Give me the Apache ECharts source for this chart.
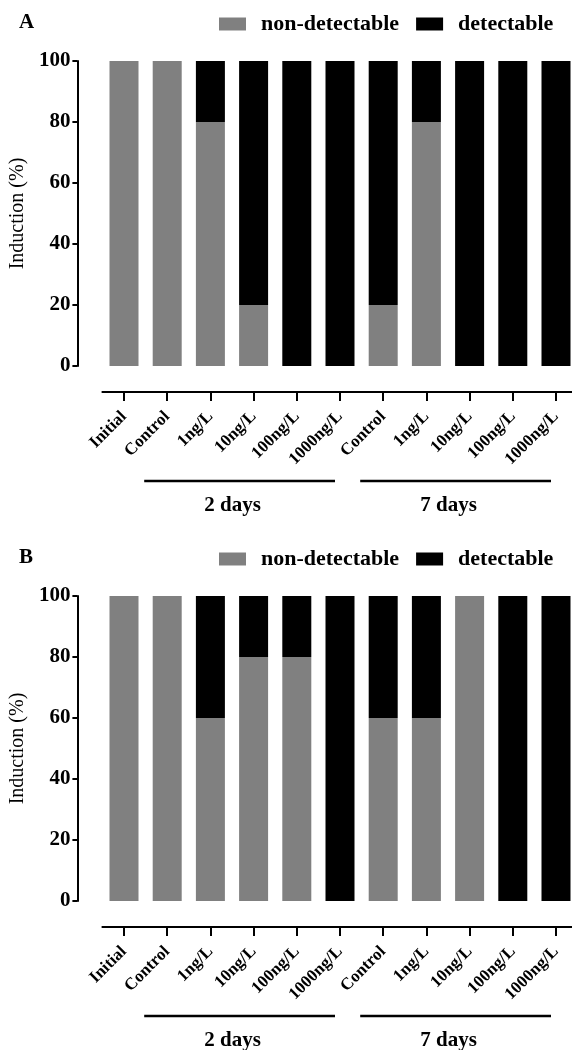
<!DOCTYPE html>
<html>
<head>
<meta charset="utf-8">
<script src="https://cdn.jsdelivr.net/npm/echarts@6/dist/echarts.min.js"></script>
<style>
  html, body { margin: 0; padding: 0; background: #fff; }
  #chart { width: 572px; height: 1050px; }
</style>
</head>
<body>
<div id="chart"></div>
<script>
// categories along the x axis
const categories = ["Initial", "Control", "1ng/L", "10ng/L", "100ng/L", "1000ng/L",
  "Control", "1ng/L", "10ng/L", "100ng/L", "1000ng/L"];
const yTicks = [0, 20, 40, 60, 80, 100];

// panel A (%)
const nonDetA = [100, 100, 80, 20, 0, 0, 20, 80, 0, 0, 0];
const detA = [0, 0, 20, 80, 100, 100, 80, 20, 100, 100, 100];
// panel B (%)
const nonDetB = [100, 100, 60, 80, 80, 0, 60, 60, 100, 0, 0];
const detB = [0, 0, 40, 20, 20, 100, 40, 40, 0, 100, 100];

// groups under the axis: [first index, last index, label]
const groups = [[1, 5, "2 days"], [6, 10, "7 days"]];

const FONT = "Liberation Serif";
const GRAY = "#808080";
const PANEL_OFFSET = 535;

function makeXAxis(gridIndex) {
  return {
    type: "category",
    gridIndex: gridIndex,
    data: categories,
    offset: 26,
    axisLine: { show: true, onZero: false, lineStyle: { color: "#000", width: 2 } },
    axisTick: { show: true, alignWithLabel: true, length: 9, lineStyle: { color: "#000", width: 2 } },
    axisLabel: {
      rotate: 45, interval: 0, margin: 22,
      fontFamily: FONT, fontWeight: "bold", fontSize: 17, color: "#000"
    }
  };
}

function makeYAxis(gridIndex) {
  return {
    type: "value",
    gridIndex: gridIndex,
    min: yTicks[0],
    max: yTicks[yTicks.length - 1],
    interval: 20,
    offset: 25,
    name: "Induction (%)",
    nameLocation: "middle",
    nameGap: 41,
    nameTextStyle: { fontFamily: FONT, fontSize: 20, color: "#000" },
    splitLine: { show: false },
    axisLine: { show: true, lineStyle: { color: "#000", width: 2 } },
    axisTick: { show: true, length: 5, lineStyle: { color: "#000", width: 2 } },
    axisLabel: { fontFamily: FONT, fontWeight: "bold", fontSize: 21, color: "#000", margin: 7 }
  };
}

function makeLegend(top) {
  return {
    top: top,
    left: 214,
    icon: "rect",
    itemWidth: 27,
    itemHeight: 13,
    itemGap: 17,
    data: [
      { name: "non-detectable", itemStyle: { color: GRAY } },
      { name: "detectable", itemStyle: { color: "#000" } }
    ],
    textStyle: { fontFamily: FONT, fontWeight: "bold", fontSize: 22, color: "#000", padding: [0, 0, 0, 10] }
  };
}

function bar(name, data, idx, stack, color) {
  return {
    name: name, type: "bar", stack: stack, data: data,
    xAxisIndex: idx, yAxisIndex: idx, barWidth: 29,
    itemStyle: { color: color }
  };
}

const titleStyle = { fontFamily: FONT, fontWeight: "bold", fontSize: 21, color: "#000" };

const chart = echarts.init(document.getElementById("chart"));
chart.setOption({
  animation: false,
  backgroundColor: "#fff",
  title: [
    { text: "A", left: 14, top: 7, textStyle: titleStyle },
    { text: "B", left: 14, top: 7 + PANEL_OFFSET, textStyle: titleStyle }
  ],
  legend: [makeLegend(8), makeLegend(8 + PANEL_OFFSET)],
  grid: [
    { left: 102.4, width: 475.2, top: 61, height: 305, outerBoundsMode: "none" },
    { left: 102.4, width: 475.2, top: 61 + PANEL_OFFSET, height: 305, outerBoundsMode: "none" }
  ],
  xAxis: [makeXAxis(0), makeXAxis(1)],
  yAxis: [makeYAxis(0), makeYAxis(1)],
  series: [
    bar("non-detectable", nonDetA, 0, "a", GRAY),
    bar("detectable", detA, 0, "a", "#000"),
    bar("non-detectable", nonDetB, 1, "b", GRAY),
    bar("detectable", detB, 1, "b", "#000")
  ]
});

// group brackets below the rotated labels
const graphics = [];
[0, 1].forEach(function (p) {
  const lineY = 481 + p * PANEL_OFFSET;
  groups.forEach(function (g) {
    const x1 = chart.convertToPixel({ xAxisIndex: p }, g[0]) - 23;
    const x2 = chart.convertToPixel({ xAxisIndex: p }, g[1]) - 5;
    graphics.push({
      type: "line",
      shape: { x1: x1, y1: lineY, x2: x2, y2: lineY },
      style: { stroke: "#000", lineWidth: 2.5 }
    });
    graphics.push({
      type: "text",
      x: (x1 + x2) / 2 - 7,
      y: lineY + 25,
      style: {
        text: g[2], align: "center", verticalAlign: "middle",
        font: "bold 21px '" + FONT + "'", fill: "#000"
      }
    });
  });
});
chart.setOption({ graphic: graphics });
</script>
</body>
</html>
